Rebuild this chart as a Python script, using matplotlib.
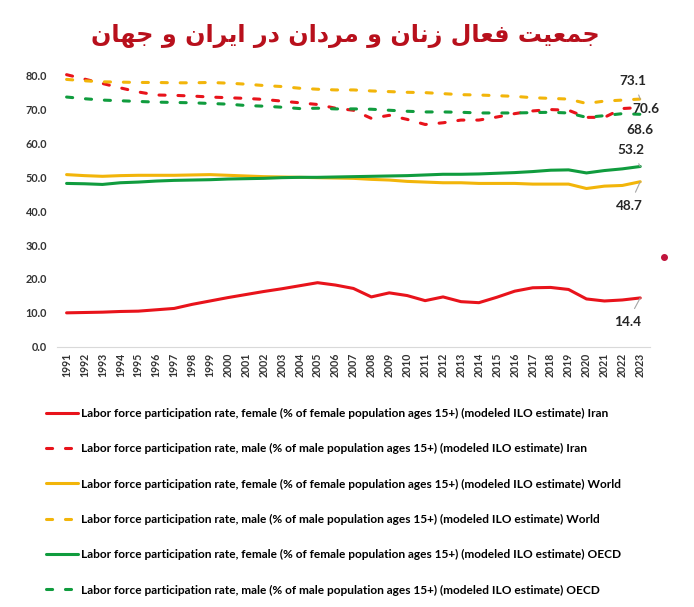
"""
Labor force participation rate of women and men in Iran, World and OECD.
"""
import matplotlib
matplotlib.use("Agg")
import matplotlib.pyplot as plt

YEARS = list(range(1991, 2024))

IRAN_F = [10.0, 10.1, 10.2, 10.4, 10.5, 10.9, 11.3, 12.5, 13.5, 14.5, 15.4,
          16.3, 17.1, 18.0, 18.9, 18.2, 17.2, 14.7, 15.9, 15.1, 13.6, 14.7,
          13.3, 13.0, 14.6, 16.4, 17.4, 17.5, 16.9, 14.1, 13.5, 13.8, 14.4]
IRAN_M = [80.3, 79.0, 77.7, 76.4, 75.2, 74.3, 74.2, 74.0, 73.7, 73.5, 73.3,
          73.0, 72.5, 72.0, 71.5, 70.4, 69.8, 67.4, 68.3, 67.1, 65.6, 66.1,
          66.9, 66.9, 67.8, 68.8, 69.6, 70.0, 69.8, 67.7, 67.7, 70.3, 70.6]
WORLD_F = [50.8, 50.5, 50.3, 50.5, 50.6, 50.6, 50.6, 50.7, 50.8, 50.6, 50.4,
           50.2, 50.1, 50.0, 49.9, 49.8, 49.7, 49.4, 49.2, 48.8, 48.6, 48.4,
           48.4, 48.2, 48.2, 48.2, 48.0, 48.0, 48.0, 46.7, 47.4, 47.6, 48.7]
WORLD_M = [78.9, 78.5, 78.2, 78.1, 78.0, 78.0, 77.9, 77.9, 78.0, 77.8, 77.5,
           77.1, 76.8, 76.3, 76.0, 75.8, 75.8, 75.5, 75.3, 75.1, 75.0, 74.7,
           74.4, 74.3, 74.1, 73.9, 73.5, 73.3, 73.1, 71.8, 72.5, 72.8, 73.1]
OECD_F = [48.2, 48.1, 47.9, 48.4, 48.6, 48.9, 49.1, 49.2, 49.3, 49.5, 49.6,
          49.7, 49.9, 50.0, 50.0, 50.1, 50.2, 50.3, 50.4, 50.5, 50.7, 50.9,
          50.9, 51.0, 51.2, 51.4, 51.7, 52.1, 52.2, 51.3, 52.0, 52.5, 53.2]
OECD_M = [73.7, 73.2, 72.8, 72.6, 72.4, 72.2, 72.1, 72.0, 71.8, 71.6, 71.2,
          71.0, 70.7, 70.3, 70.4, 70.2, 70.2, 70.1, 69.8, 69.5, 69.3, 69.3,
          69.2, 69.0, 69.0, 69.0, 69.1, 69.2, 69.0, 67.7, 68.2, 68.8, 68.6]

FEMALE = ("Labor force participation rate, female (% of female population "
          "ages 15+) (modeled ILO estimate) ")
MALE = ("Labor force participation rate, male (% of male population "
        "ages 15+) (modeled ILO estimate) ")

TITLE = "جمعیت فعال زنان و مردان در ایران و جهان"

RED = "#e8131b"
GOLD = "#f2b50a"
GREEN = "#109c3e"

# contextual forms: (isolated, final, initial, medial); None = no left join
FORMS = {
    "ا": (0xFE8D, 0xFE8E, None, None),
    "ت": (0xFE95, 0xFE96, 0xFE97, 0xFE98),
    "ج": (0xFE9D, 0xFE9E, 0xFE9F, 0xFEA0),
    "د": (0xFEA9, 0xFEAA, None, None),
    "ر": (0xFEAD, 0xFEAE, None, None),
    "ز": (0xFEAF, 0xFEB0, None, None),
    "ع": (0xFEC9, 0xFECA, 0xFECB, 0xFECC),
    "ف": (0xFED1, 0xFED2, 0xFED3, 0xFED4),
    "ل": (0xFEDD, 0xFEDE, 0xFEDF, 0xFEE0),
    "م": (0xFEE1, 0xFEE2, 0xFEE3, 0xFEE4),
    "ن": (0xFEE5, 0xFEE6, 0xFEE7, 0xFEE8),
    "ه": (0xFEE9, 0xFEEA, 0xFEEB, 0xFEEC),
    "و": (0xFEED, 0xFEEE, None, None),
    "ی": (0xFBFC, 0xFBFD, 0xFEF3, 0xFEF4),
}


def shape_persian(text):
    """Join Persian letters and put them in visual (left to right) order."""
    words = []
    for word in text.split(" "):
        shaped = ""
        for i, ch in enumerate(word):
            form = FORMS[ch]
            joins_prev = i > 0 and FORMS[word[i - 1]][2] is not None
            joins_next = i < len(word) - 1 and form[2] is not None
            if joins_prev and joins_next:
                code = form[3]
            elif joins_prev:
                code = form[1]
            elif joins_next:
                code = form[2]
            else:
                code = form[0]
            shaped += chr(code)
        words.append(shaped[::-1])
    return " ".join(words[::-1])


plt.rcParams["font.family"] = ["Lato", "DejaVu Sans"]
plt.rcParams["font.weight"] = "bold"

fig = plt.figure(figsize=(6.94, 6.07), dpi=100)
ax = fig.add_axes([0.082, 0.4288, 0.855, 0.4465])

series = [
    (IRAN_F, RED, "-", FEMALE + "Iran"),
    (IRAN_M, RED, "--", MALE + "Iran"),
    (WORLD_F, GOLD, "-", FEMALE + "World"),
    (WORLD_M, GOLD, "--", MALE + "World"),
    (OECD_F, GREEN, "-", FEMALE + "OECD"),
    (OECD_M, GREEN, "--", MALE + "OECD"),
]
for values, color, style, label in series:
    line, = ax.plot(YEARS, values, color=color, lw=2.2, label=label,
                    clip_on=False, solid_capstyle="round")
    if style == "--":
        line.set_dashes((2.0, 4.2))
        line.set_dash_capstyle("round")

ax.set_xlim(1990.46, 2023.56)
ax.set_ylim(0, 80)
ax.set_yticks(range(0, 81, 10))
ax.set_yticklabels([f"{v:.1f}" for v in range(0, 81, 10)])
ax.set_xticks(YEARS)
ax.set_xticklabels([str(y) for y in YEARS], rotation=90)
ax.tick_params(axis="y", length=0, pad=7, labelsize=7.8, labelcolor="#333333")
ax.tick_params(axis="x", length=0, pad=4.5, labelsize=7.6, labelcolor="#333333")
for side in ("top", "right", "left"):
    ax.spines[side].set_visible(False)
ax.spines["bottom"].set_color("#d9d9d9")
ax.spines["bottom"].set_linewidth(0.8)

# end-of-line data labels (offsets in points)
end_labels = [
    (WORLD_M[-1], (-5, 13), True),
    (IRAN_M[-1], (4, -1), False),
    (OECD_M[-1], (0, -11.5), False),
    (OECD_F[-1], (-6.5, 11.8), True),
    (WORLD_F[-1], (-8, -17.5), True),
    (IRAN_F[-1], (-9.4, -17.5), True),
]
for value, offset, leader in end_labels:
    arrow = None
    if leader:
        arrow = dict(arrowstyle="-", color="#a6a6a6", lw=0.8,
                     shrinkA=4, shrinkB=0)
    ax.annotate(f"{value:.1f}", xy=(YEARS[-1], value), xytext=offset,
                textcoords="offset points", ha="center", va="center",
                fontsize=9.8, color="#262626", arrowprops=arrow)

fig.text(0.498, 1 - 36 / 607, shape_persian(TITLE), ha="center",
         va="center", fontsize=17.2, color="#b8101c", fontweight="bold",
         family=["DejaVu Sans"])

fig.legend(loc="upper left", bbox_to_anchor=(46 / 694, 1 - 408 / 607),
           frameon=False, fontsize=8.6, handlelength=2.7, handletextpad=0.25,
           labelspacing=2.03, borderpad=0, borderaxespad=0, ncol=1)

# stray marker dot on the slide
fig.add_artist(plt.Line2D([664 / 694], [1 - 257 / 607], marker="o",
                          markersize=4, color="#c0143c", lw=0))

fig.savefig("out.png", dpi=100, facecolor="white")
